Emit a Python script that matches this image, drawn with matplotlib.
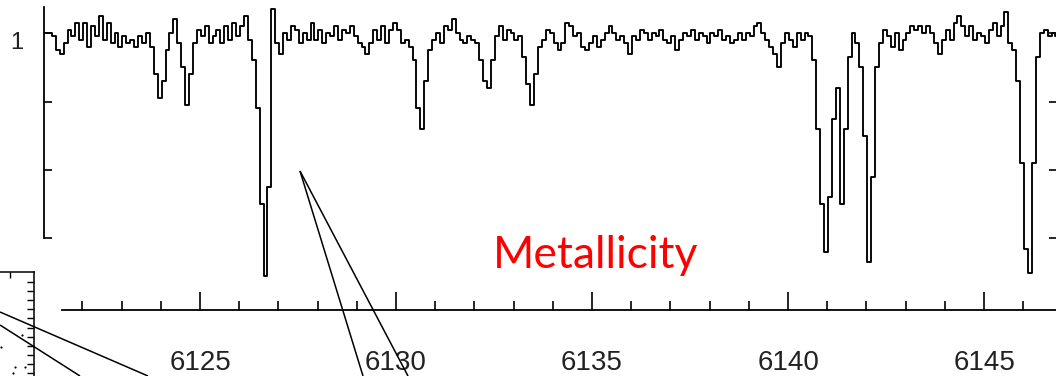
import numpy as np
import matplotlib
matplotlib.use("Agg")
import matplotlib.pyplot as plt
from matplotlib.ticker import FixedLocator, NullFormatter

# ---------------- data ----------------
wave_start = 6121.07   # Angstrom, first sample
wave_step = 0.1        # Angstrom per sample
flux = [
    1.00, 1.00, 0.99, 0.95, 0.94, 0.97, 1.01, 0.99, 1.03, 0.98,   # 0-9
    1.03, 0.96, 1.02, 0.99, 1.05, 0.98, 1.03, 0.97, 1.00, 0.96,   # 10-19
    0.99, 0.97, 0.98, 0.96, 0.99, 0.97, 1.00, 0.96, 0.88, 0.81,   # 20-29
    0.86, 0.95, 1.00, 1.04, 0.97, 0.90, 0.79, 0.88, 0.97, 1.01,   # 30-39
    0.99, 1.02, 0.97, 0.99, 1.01, 0.97, 1.02, 0.98, 1.03, 0.99,   # 40-49
    1.02, 1.05, 0.98, 0.92, 0.78, 0.50, 0.29, 0.55, 1.07, 0.97,   # 50-59
    0.94, 1.00, 0.98, 1.02, 1.01, 0.97, 1.00, 0.98, 1.03, 0.98,   # 60-69
    1.01, 0.97, 1.00, 0.99, 1.02, 0.98, 1.01, 1.00, 1.02, 0.99,   # 70-79
    0.97, 0.96, 0.94, 0.97, 1.01, 0.98, 1.02, 0.97, 1.01, 1.03,   # 80-89
    1.01, 0.97, 0.98, 0.96, 0.92, 0.78, 0.72, 0.86, 0.95, 0.98,   # 90-99
    1.00, 0.97, 1.02, 1.01, 1.04, 1.00, 0.98, 0.97, 0.99, 0.98,   # 100-109
    0.97, 0.92, 0.86, 0.84, 0.92, 0.99, 1.02, 0.98, 1.01, 1.00,   # 110-119
    0.98, 0.99, 0.93, 0.85, 0.79, 0.88, 0.96, 0.98, 1.01, 1.00,   # 120-129
    0.97, 0.95, 0.97, 1.03, 1.02, 0.99, 1.00, 0.96, 0.95, 0.97,   # 130-139
    0.99, 0.96, 0.98, 1.00, 1.02, 1.00, 0.98, 0.99, 0.97, 0.94,   # 140-149
    0.99, 0.98, 1.01, 1.00, 0.98, 1.00, 0.99, 1.01, 0.98, 0.97,   # 150-159
    0.99, 0.95, 0.98, 1.00, 0.99, 1.01, 0.98, 1.00, 0.99, 0.97,   # 160-169
    1.00, 0.99, 1.01, 0.98, 0.99, 0.97, 0.98, 1.00, 0.98, 1.00,   # 170-179
    0.99, 1.02, 1.03, 1.00, 0.98, 0.96, 0.94, 0.90, 0.97, 1.00,   # 180-189
    0.98, 0.96, 1.00, 0.98, 1.00, 0.99, 0.92, 0.72, 0.50, 0.36,   # 190-199
    0.52, 0.75, 0.84, 0.50, 0.72, 0.93, 1.00, 0.97, 0.90, 0.70,   # 200-209
    0.33, 0.58, 0.90, 0.97, 1.01, 0.99, 0.96, 1.00, 0.95, 0.98,   # 210-219
    1.00, 1.02, 1.01, 1.02, 1.00, 1.02, 1.00, 0.97, 0.94, 0.98,   # 220-229
    1.01, 0.98, 1.03, 1.05, 1.02, 0.99, 1.02, 0.98, 1.00, 0.99,   # 230-239
    0.97, 1.01, 1.03, 0.99, 1.02, 1.06, 0.97, 0.95, 0.86, 0.62,   # 240-249
    0.37, 0.30, 0.62, 0.93, 1.00, 1.01, 0.99, 1.00, 0.99,         # 250-258
]
wavelength = wave_start + wave_step * np.arange(len(flux))

major_ticks = [6125, 6130, 6135, 6140, 6145]
major_labels = ["6125", "6130", "6135", "6140", "6145"]
minor_ticks = [6122, 6123, 6124, 6126, 6127, 6128, 6129, 6131, 6132, 6133,
               6134, 6136, 6137, 6138, 6139, 6141, 6142, 6143, 6144, 6146]
y_ticks = [1.0, 0.8, 0.6, 0.4]
y_label_text = "1"
title_text = "Metallicity"

# small inset panel (partially visible at lower left)
inset_x = [12.2, 10.1, 12.5, 11.5, 11.3]
inset_y = [4.18, 2.86, 0.66, 0.66, 0.00]

# ---------------- figure ----------------
W, H = 1056, 376
fig = plt.figure(figsize=(W / 100, H / 100), dpi=100)

def fx(px):
    return px / W

def fy(py):
    return 1 - py / H

# main spectrum axes
ax = fig.add_axes([fx(44), fy(310), (1057 - 44) / W, 310 / H])
ax.plot(wavelength, flux, color="black", lw=1.35, drawstyle="steps-mid")
ax.set_xlim(6121.02, 6146.86)
ax.set_ylim(0.1912, 1.0964)
ax.patch.set_visible(False)

for s in ("top", "right"):
    ax.spines[s].set_visible(False)
ax.spines["left"].set_bounds(0.4015, 1.0759)
ax.spines["bottom"].set_bounds(6121.48, 6146.86)
ax.spines["left"].set_linewidth(1.3)
ax.spines["bottom"].set_linewidth(1.3)

ax.xaxis.set_major_locator(FixedLocator(major_ticks))
ax.xaxis.set_minor_locator(FixedLocator(minor_ticks))
ax.set_xticklabels(major_labels, fontfamily="Liberation Sans", fontsize=20,
                   color="#222222")
ax.xaxis.set_minor_formatter(NullFormatter())
ax.tick_params(axis="x", which="major", direction="in", length=13, width=1.2,
               pad=28.5, top=False)
ax.tick_params(axis="x", which="minor", direction="in", length=6.5, width=1.2,
               top=False)

ax.yaxis.set_major_locator(FixedLocator(y_ticks))
ax.set_yticklabels([])
ax.tick_params(axis="y", which="major", direction="in", length=6, width=1.2,
               left=True, right=True)
ax.annotate(y_label_text, xy=(0, 1.0), xycoords=("axes fraction", "data"),
            xytext=(-15, -7.5), textcoords="offset points", ha="right",
            va="center", fontfamily="Liberation Sans", fontsize=17,
            color="#222222")

# inset panel at lower left
axi = fig.add_axes([fx(-100), fy(381.2), 134 / W, 109.2 / H])
axi.scatter(inset_x, inset_y, s=2.5, color="black", lw=0)
axi.set_xlim(0, 13.4)
axi.set_ylim(-0.9, 11.1)
axi.patch.set_visible(False)
for s in ("left", "bottom"):
    axi.spines[s].set_visible(False)
for s in ("top", "right"):
    axi.spines[s].set_linewidth(1.1)
axi.yaxis.set_major_locator(FixedLocator(list(range(0, 11))))
axi.xaxis.set_major_locator(FixedLocator([11]))
axi.tick_params(axis="y", direction="in", length=5, width=1.0, left=False,
                right=True, labelleft=False, labelright=False)
axi.tick_params(axis="x", direction="in", length=4, width=1.0, bottom=False,
                top=True, labelbottom=False, labeltop=False)

# overlay for annotation lines and title
ov = fig.add_axes([0, 0, 1, 1])
ov.set_xlim(0, W)
ov.set_ylim(H, 0)
ov.axis("off")
ov.patch.set_visible(False)
callouts = [((300, 171), (363, 376)), ((300, 171), (408, 376)),
            ((0, 312), (148, 376)), ((0, 325), (80, 376))]
for (x0, y0), (x1, y1) in callouts:
    ov.plot([x0, x1], [y0, y1], color="black", lw=1.1, solid_capstyle="butt")

fig.text(fx(493), fy(268), title_text, color="#ff0000", fontfamily="Lato",
         fontsize=32, ha="left", va="baseline")

fig.savefig("out.png", dpi=100)
